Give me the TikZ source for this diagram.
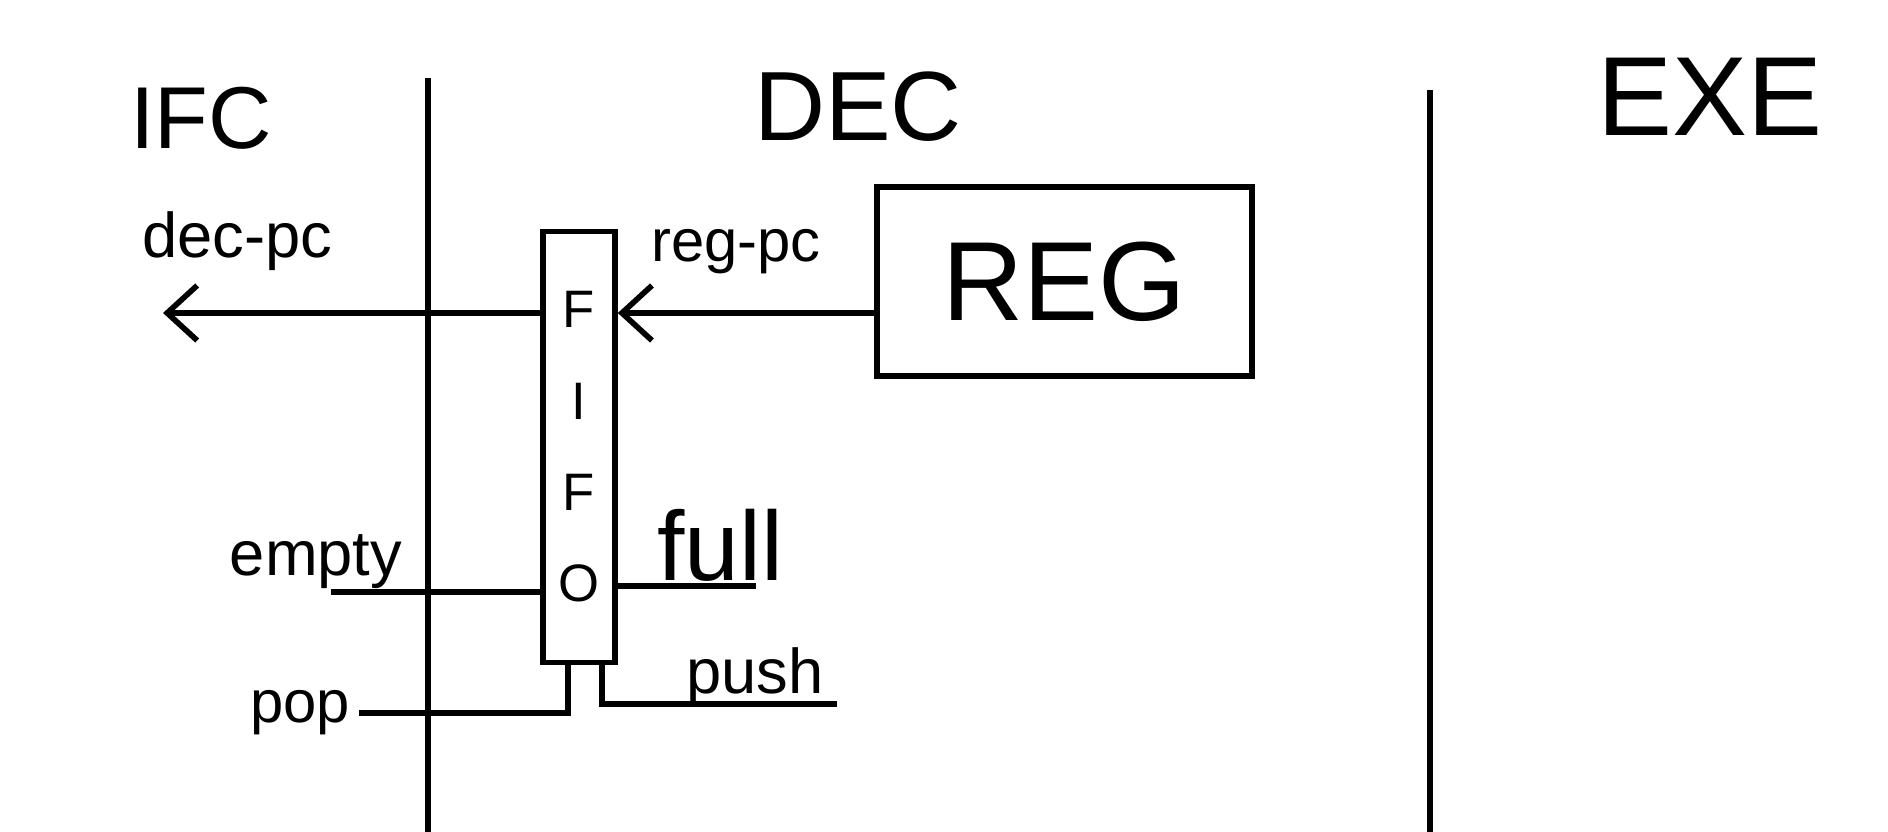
\documentclass[tikz,border=0pt]{standalone}
\usepackage{fontspec}
\setmainfont{Liberation Sans}
\usetikzlibrary{arrows.meta, positioning}

\begin{document}
\begin{tikzpicture}[
    line width=1.6pt,
stage/.style = {font=\fontsize{28}{32}\selectfont},
box/.style = {draw, inner sep=0pt, align=center},
sig/.style = {font=\fontsize{18}{22}\selectfont, inner sep=1pt},
sx-/.style = {xshift=-1.1mm},
sx+/.style = {xshift= 2.3mm},
arr/.style = {-{Straight Barb[length=3mm, width=5.5mm]}}
                        ]
\useasboundingbox (0,0) rectangle (18.88,8.32);
% pipeline stages
\node (ifc) [stage, font=\fontsize{25}{28}\selectfont] at (2.01,7.14) {IFC};
\node (dec) [stage] at (8.58,7.25) {DEC};
\node (exe) [stage, font=\fontsize{32}{36}\selectfont] at (17.10,7.35) {EXE};
\coordinate (b1top) at (4.28,7.54);
\coordinate (b1bot) at (4.28,0);
\coordinate (b2top) at (14.30,7.42);
\coordinate (b2bot) at (14.30,0);
\draw (b1top) -- (b1bot);
\draw (b2top) -- (b2bot);
%
\node (fifo) [box, minimum width=7.2mm, minimum height=43.1mm,
              font=\fontsize{15}{26}\selectfont] at (5.79,3.85) {F\\I\\F\\O};
\node (reg)  [box, minimum width=37.5mm, minimum height=18.9mm,
              font=\fontsize{32}{36}\selectfont] at (10.645,5.505) {REG};
%
\coordinate (pcin)  at ([yshift=-3.15mm] reg.west);
\coordinate (pcout) at (1.63,5.19);
\draw[arr] (pcin) -- (pcin -| fifo.east);
\draw[arr] (fifo.west |- pcout) -- (pcout);
\node (regpc) [sig, font=\fontsize{17}{20}\selectfont] at (7.36,5.80) {reg-pc};
\node (decpc) [sig] at (2.37,5.91) {dec-pc};
% status and control
\coordinate (emptyin) at (3.31,2.40);
\coordinate (fullout) at (7.56,2.46);
\coordinate (popin)   at (3.59,1.19);
\coordinate (pushin)  at (8.37,1.28);
\draw (emptyin) -- (emptyin -| fifo.west);
\draw (fifo.east |- fullout) -- (fullout);
\draw (popin) -| ([sx-] fifo.south);
\draw ([sx+] fifo.south) |- (pushin);
\node (empty) [sig] at (3.16,2.70) {empty};
\node (full)  [sig, font=\fontsize{28}{32}\selectfont] at (7.20,2.87) {full};
\node (pop)   [sig, font=\fontsize{17}{20}\selectfont] at (3.00,1.19) {pop};
\node (push)  [sig] at (7.55,1.55) {push};
\end{tikzpicture}
\end{document}
